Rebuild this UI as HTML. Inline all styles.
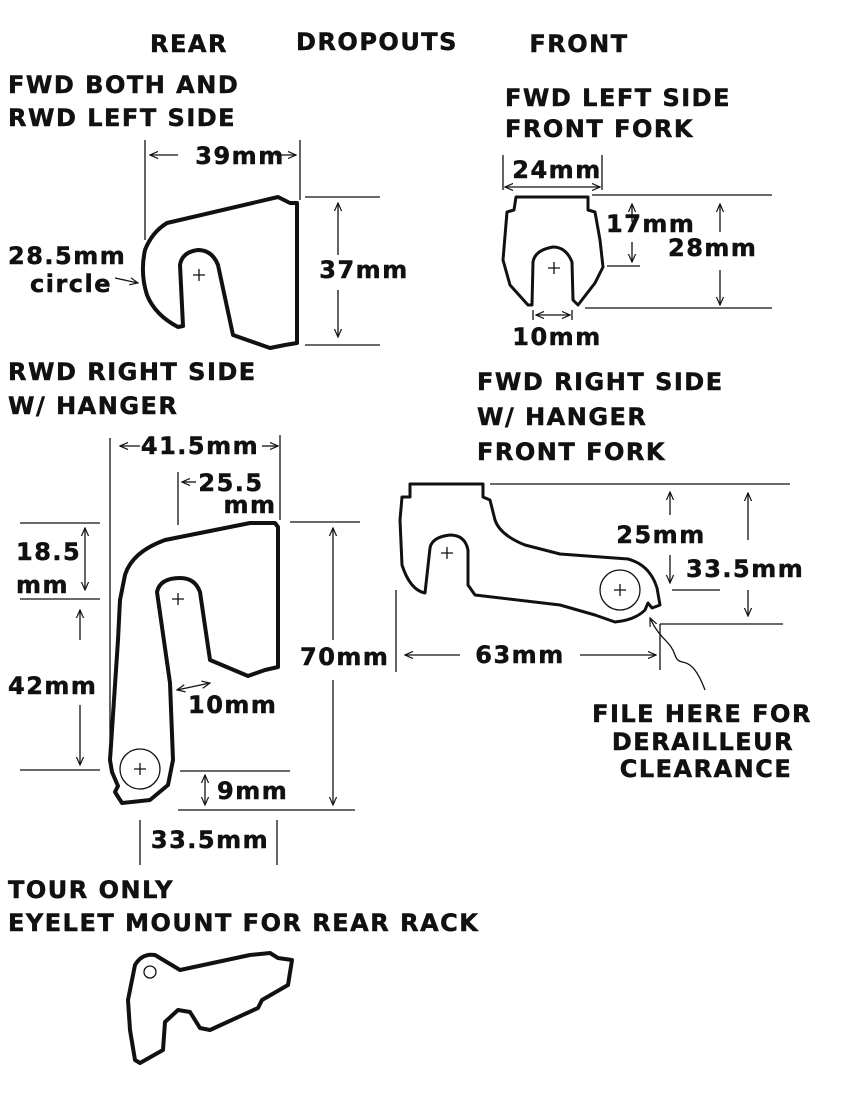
<!DOCTYPE html>
<html><head><style>
body{margin:0;background:#fff}
svg text{font-family:"DejaVu Sans","Liberation Sans",sans-serif;font-weight:bold;fill:#111;stroke:#111;stroke-width:0.5;letter-spacing:1.5px}
</style></head><body>
<svg width="849" height="1099" viewBox="0 0 849 1099" xmlns="http://www.w3.org/2000/svg">
<defs><marker id="a" viewBox="0 0 10 10" refX="9" refY="5" markerWidth="7" markerHeight="7" orient="auto-start-reverse"><path d="M0,1L9,5L0,9" fill="none" stroke="#111" stroke-width="1.3"/></marker></defs>
<g font-size="24">
<g text-anchor="middle">
<text x="189" y="52">REAR</text><text x="377" y="50">DROPOUTS</text><text x="579" y="52">FRONT</text>
<text x="702" y="722">FILE HERE FOR</text><text x="703" y="750">DERAILLEUR</text><text x="706" y="777">CLEARANCE</text>
<text x="240" y="164">39mm</text><text x="364" y="278">37mm</text>
<text x="557" y="178">24mm</text><text x="557" y="345">10mm</text>
<text x="200" y="454">41.5mm</text><text x="231" y="491">25.5</text><text x="250" y="513">mm</text>
<text x="210" y="848">33.5mm</text>
<text x="661" y="543">25mm</text><text x="520" y="663">63mm</text>
</g>
<text x="8" y="93">FWD BOTH AND</text><text x="8" y="126">RWD LEFT SIDE</text>
<text x="505" y="106">FWD LEFT SIDE</text><text x="505" y="137">FRONT FORK</text>
<text x="8" y="380">RWD RIGHT SIDE</text><text x="8" y="414">W/ HANGER</text>
<text x="477" y="390">FWD RIGHT SIDE</text><text x="477" y="425">W/ HANGER</text><text x="477" y="460">FRONT FORK</text>
<text x="8" y="898">TOUR ONLY</text><text x="8" y="931">EYELET MOUNT FOR REAR RACK</text>
<text x="8" y="264">28.5mm</text><text x="30" y="292">circle</text>
<text x="606" y="232">17mm</text><text x="668" y="256">28mm</text>
<text x="16" y="560">18.5</text><text x="16" y="593">mm</text><text x="8" y="694">42mm</text>
<text x="300" y="665">70mm</text><text x="188" y="713">10mm</text><text x="217" y="799">9mm</text>
<text x="686" y="577">33.5mm</text>
</g>
<g fill="none" stroke="#111" stroke-width="1.3">
<path d="M145 140V240M300 140V200M305 197H380M305 345H380"/>
<path d="M178 155H150" marker-end="url(#a)"/><path d="M275 155H296" marker-end="url(#a)"/>
<path d="M338 255V203" marker-end="url(#a)"/><path d="M338 290V337" marker-end="url(#a)"/>
<path d="M115 278L138 283" marker-end="url(#a)"/>
<path d="M503 155V190M602 155V190M592 195H772M585 308H772M607 266H640M533 310V320M572 310V320"/>
<path d="M505 187H600" marker-start="url(#a)" marker-end="url(#a)"/>
<path d="M632 222V204" marker-end="url(#a)"/><path d="M632 242V262" marker-end="url(#a)"/>
<path d="M720 232V204" marker-end="url(#a)"/><path d="M720 270V305" marker-end="url(#a)"/>
<path d="M536 315H570" marker-start="url(#a)" marker-end="url(#a)"/>
<path d="M110 438V740M280 435V520M178 472V525M20 523H100M20 599H100M20 770H100M290 522H360M178 810H355M180 771H290M140 820V865M277 820V865"/>
<path d="M140 446H120" marker-end="url(#a)"/><path d="M262 446H278" marker-end="url(#a)"/>
<path d="M196 482H182" marker-end="url(#a)"/>
<path d="M85 528V590" marker-start="url(#a)" marker-end="url(#a)"/>
<path d="M80 640V610" marker-end="url(#a)"/><path d="M80 705V765" marker-end="url(#a)"/>
<path d="M333 640V528" marker-end="url(#a)"/><path d="M333 680V805" marker-end="url(#a)"/>
<path d="M205 775V805" marker-start="url(#a)" marker-end="url(#a)"/>
<path d="M177 690L210 683" marker-start="url(#a)" marker-end="url(#a)"/>
<path d="M490 484H790M672 590H720M660 624H783M660 624V670M396 590V672"/>
<path d="M670 515V492" marker-end="url(#a)"/><path d="M670 555V583" marker-end="url(#a)"/>
<path d="M748 540V493" marker-end="url(#a)"/><path d="M748 590V616" marker-end="url(#a)"/>
<path d="M460 655H405" marker-end="url(#a)"/><path d="M580 655H656" marker-end="url(#a)"/>
<path d="M705 690C690 650 680 670 675 655C670 640 660 640 650 618" marker-end="url(#a)"/>
</g>
<g fill="none" stroke="#111" stroke-width="4" stroke-linejoin="round">
<path d="M167 223L278 197L290 203L297 203V343L285 345L270 348L233 335L218 265Q212 250 198 250Q182 252 180 265L183 326L178 327Q155 315 147 295Q140 273 145 250Q152 232 167 223Z"/>
<path d="M165 540L250 523L275 523L278 527V667L265 670L248 676L210 660L200 592Q195 578 180 578Q160 578 157 592L170 683L173 760L168 785L150 800L122 803L115 792L118 786L112 772L110 760L118 640L120 600L125 575Q132 552 165 540Z"/>
<path d="M410 484H483V497L490 500L495 520Q500 535 525 545L560 554L628 559Q650 565 657 588L660 605L652 608L648 603L645 610Q635 620 615 622L595 615L560 605L475 595L468 585V550Q465 535 450 535Q432 537 430 548L425 593Q410 590 402 565L400 520L402 497L410 497Z" stroke-width="3"/>
<path d="M516 197H588V210L595 212L600 240L603 267L595 283L578 305L573 300L572 262Q566 247 553 247Q535 250 533 262L532 305L528 305L510 285L503 260L507 212L514 210Z" stroke-width="3"/>
<path d="M135 965Q142 953 155 955L180 970L250 955L270 953L278 958L292 960L288 985L262 1000L258 1008L210 1030L200 1028L190 1012L178 1010L165 1022L163 1050L140 1063L135 1060L130 1030L128 1000Z"/>
</g>
<g fill="none" stroke="#111" stroke-width="1.3">
<circle cx="140" cy="769" r="20"/><circle cx="620" cy="590" r="20"/><circle cx="150" cy="972" r="6"/>
<path d="M193 275H205M199 269V281M172 599H184M178 593V605M134 769H146M140 763V775M614 590H626M620 584V596M441 553H453M447 547V559M548 268H560M554 262V274"/>
</g>
</svg>
</body></html>
